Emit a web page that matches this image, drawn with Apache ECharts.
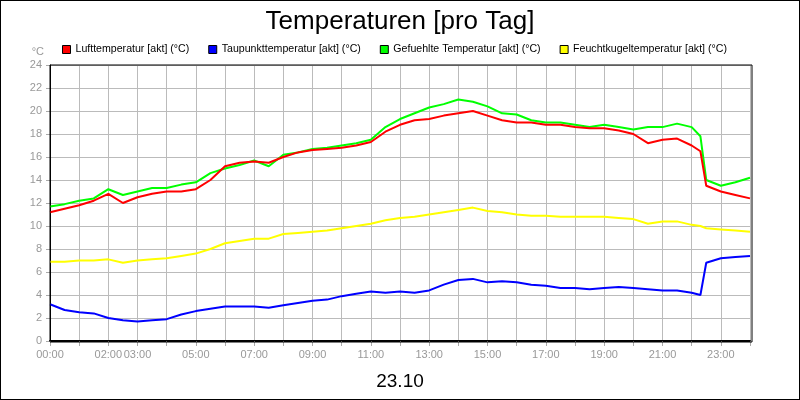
<!DOCTYPE html>
<html>
<head>
<meta charset="utf-8">
<title>Temperaturen</title>
<script src="https://cdn.jsdelivr.net/npm/echarts@6/dist/echarts.min.js"></script>
<style>
  html, body { margin: 0; padding: 0; background: #fff; }
  #chart { width: 798px; height: 398px; border: 1px solid #000; }
</style>
</head>
<body>
<div id="chart"></div>
<script>
    // hours of day (shared by all series)
    var hours = [0,0.5,1,1.5,2,2.5,3,3.5,4,4.5,5,5.5,6,6.5,7,7.5,8,8.5,9,9.5,10,10.5,11,11.5,12,12.5,13,13.5,14,14.5,15,15.5,16,16.5,17,17.5,18,18.5,19,19.5,20,20.5,21,21.5,22,22.3,22.5,23,23.5,24];
    var luft = [11.2,11.5,11.8,12.2,12.8,12.0,12.5,12.8,13.0,13.0,13.2,14.0,15.2,15.5,15.6,15.5,16.0,16.4,16.6,16.7,16.8,17.0,17.3,18.2,18.8,19.2,19.3,19.6,19.8,20.0,19.6,19.2,19.0,19.0,18.8,18.8,18.6,18.5,18.5,18.3,18.0,17.2,17.5,17.6,17.0,16.5,13.5,13.0,12.7,12.4];
    var taupunkt = [3.2,2.7,2.5,2.4,2.0,1.8,1.7,1.8,1.9,2.3,2.6,2.8,3.0,3.0,3.0,2.9,3.1,3.3,3.5,3.6,3.9,4.1,4.3,4.2,4.3,4.2,4.4,4.9,5.3,5.4,5.1,5.2,5.1,4.9,4.8,4.6,4.6,4.5,4.6,4.7,4.6,4.5,4.4,4.4,4.2,4.0,6.8,7.2,7.3,7.4];
    var gefuehlt = [11.7,11.9,12.2,12.4,13.2,12.7,13.0,13.3,13.3,13.6,13.8,14.6,15.0,15.3,15.7,15.2,16.2,16.4,16.7,16.8,17.0,17.2,17.5,18.6,19.3,19.8,20.3,20.6,21.0,20.8,20.4,19.8,19.7,19.2,19.0,19.0,18.8,18.6,18.8,18.6,18.4,18.6,18.6,18.9,18.6,17.8,14.0,13.5,13.8,14.2];
    var feuchtkugel = [6.9,6.9,7.0,7.0,7.1,6.8,7.0,7.1,7.2,7.4,7.6,8.0,8.5,8.7,8.9,8.9,9.3,9.4,9.5,9.6,9.8,10.0,10.2,10.5,10.7,10.8,11.0,11.2,11.4,11.6,11.3,11.2,11.0,10.9,10.9,10.8,10.8,10.8,10.8,10.7,10.6,10.2,10.4,10.4,10.1,10.0,9.8,9.7,9.6,9.5];
    var xLabels = ['00:00','02:00','03:00','05:00','07:00','09:00','11:00','13:00','15:00','17:00','19:00','21:00','23:00'];

    function pairs(vals) {
        return hours.map(function (h, i) { return [h, vals[i]]; });
    }
    function hh(v) { return (v < 10 ? '0' : '') + v + ':00'; }

    var chart = echarts.init(document.getElementById('chart'));
    var names = ['Lufttemperatur [akt] (°C)', 'Taupunkttemperatur [akt] (°C)', 'Gefuehlte Temperatur [akt] (°C)', 'Feuchtkugeltemperatur [akt] (°C)'];
    var colors = ['#ff0000', '#0000ff', '#00ff00', '#ffff00'];
    var lists = [luft, taupunkt, gefuehlt, feuchtkugel];
    var order = [3, 1, 2, 0]; // draw red on top

    var option = {
        animation: false,
        textStyle: { fontFamily: 'Liberation Sans' },
        title: [
            { text: 'Temperaturen [pro Tag]', left: 'center', top: 3, textStyle: { fontSize: 26, fontWeight: 'normal', color: '#000' } },
            { text: '23.10', left: 'center', top: 366, textStyle: { fontSize: 19, fontWeight: 'normal', color: '#000' } }
        ],
        legend: {
            data: names.map(function (n, i) { return { name: n, itemStyle: { color: colors[i], borderColor: '#000', borderWidth: 1 } }; }),
            left: 56, top: 38, icon: 'rect', itemWidth: 8, itemHeight: 8, itemGap: 19,
            textStyle: { fontSize: 10.6, color: '#000' }
        },
        grid: { left: 49, right: 49, top: 64, bottom: 58 },
        xAxis: {
            type: 'value', min: 0, max: 24, interval: 1,
            axisLine: { show: true, lineStyle: { color: '#000', width: 2 } },
            axisTick: { show: true, length: 5, lineStyle: { color: '#aaa' } },
            splitLine: { show: true, lineStyle: { color: '#bbb' } },
            axisLabel: { color: '#999', fontSize: 11, formatter: function (v) {
                var s = hh(v); return xLabels.indexOf(s) >= 0 ? s : '';
            } }
        },
        yAxis: {
            type: 'value', min: 0, max: 24, interval: 2, name: '°C',
            nameTextStyle: { color: '#999', fontSize: 11, align: 'right', padding: [0, 6, 0, 0] },
            nameGap: 8,
            axisLine: { show: true, lineStyle: { color: '#000', width: 1 } },
            axisTick: { show: true, length: 4, lineStyle: { color: '#aaa' } },
            splitLine: { show: true, lineStyle: { color: '#bbb' } },
            axisLabel: { color: '#999', fontSize: 11 }
        },
        series: order.map(function (i) {
            return {
                name: names[i], type: 'line', data: pairs(lists[i]), showSymbol: false,
                lineStyle: { color: colors[i], width: 2 }, itemStyle: { color: colors[i] }
            };
        })
    };
    // frame around plot
    option.graphic = [{ type: 'rect', shape: { x: 49, y: 64, width: 702, height: 277 }, style: { fill: 'none', stroke: '#000', lineWidth: 1 }, z: 100 }];
    chart.setOption(option);
</script>
</body>
</html>
